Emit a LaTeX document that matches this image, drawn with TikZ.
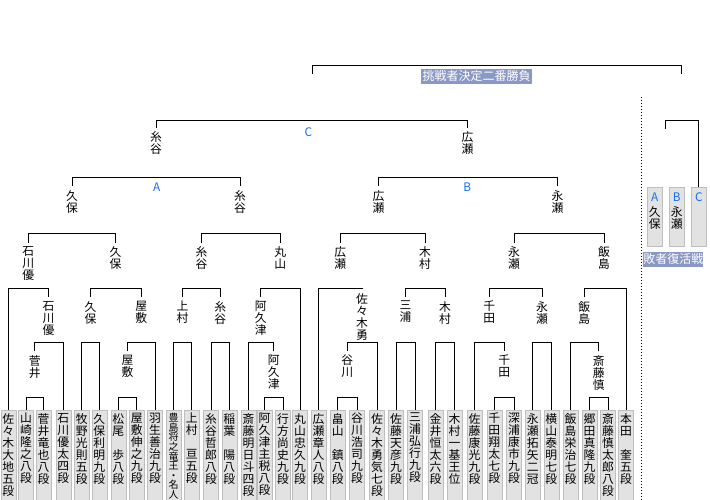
\documentclass[tikz,border=0pt]{standalone}
\usepackage{fontspec}
\newfontfamily\jpfont{Noto Sans CJK JP}
\definecolor{boxfill}{RGB}{226,226,226}
\definecolor{boxline}{RGB}{190,190,190}
\definecolor{tagfill}{RGB}{138,152,198}
\definecolor{letblue}{RGB}{20,110,240}
\makeatletter
\def\vtb#1#2{\vbox{\baselineskip=#1\lineskiplimit=-100pt\lineskip=0pt\vt@loop#2\relax}}
\def\vt@loop#1{\ifx\relax#1\else\hbox to 12pt{\hss#1\hss}\expandafter\vt@loop\fi}
\makeatother
\newcommand\vt[1]{\vtb{12pt}{#1}}
\newcommand\bkt[3]{\draw[con] (#1.north) |- (#2.north |- #3) -- (#2.north);}
\begin{document}
\begin{tikzpicture}[x=1pt,y=-1pt,
 every node/.style={font=\jpfont\fontsize{11.8}{12}\selectfont, inner sep=0pt},
 lab/.style={anchor=north, inner xsep=0pt, inner ysep=4pt},
 pbox/.style={draw=boxline, fill=boxfill, minimum width=15pt, minimum height=92pt, anchor=north},
 ptext/.style={anchor=north},
 con/.style={line width=1pt, draw=black},
 tag/.style={fill=tagfill, text=white, font=\jpfont\fontsize{12}{12}\selectfont},
 letter/.style={text=letblue}]
\useasboundingbox[fill=white] (0,0) rectangle (710,500);
\coordinate (yA) at (0,397);
\coordinate (yB) at (0,342);
\coordinate (yC) at (0,288);
\coordinate (yD) at (0,233);
\coordinate (yE) at (0,177.5);
\coordinate (yF) at (0,121);
\coordinate (yG) at (0,65.5);
\coordinate (yL) at (0,121);
% players
\foreach \i/\x/\nm in {1/8.3/佐々木大地五段, 2/26/山崎隆之八段, 3/43.5/菅井竜也八段, 4/63.3/石川優太四段,
  5/81.7/牧野光則五段, 6/99.3/久保利明九段, 7/118.3/松尾~歩八段, 8/136.7/屋敷伸之九段, 9/155/羽生善治九段,
  11/191.7/上村~亘五段, 12/211/糸谷哲郎八段, 13/229.3/稲葉~陽八段, 14/248.5/斎藤明日斗四段,
  15/264.5/阿久津主税八段, 16/283/行方尚史九段, 17/300/丸山忠久九段, 18/318.5/広瀬章人八段, 19/337.7/畠山~鎮八段,
  20/357/谷川浩司九段, 21/377/佐々木勇気七段, 22/396/佐藤天彦九段, 23/415/三浦弘行九段, 24/435.5/金井恒太六段,
  25/454.5/木村一基王位, 26/474.5/佐藤康光九段, 27/494.3/千田翔太七段, 28/514/深浦康市九段, 29/532.7/永瀬拓矢二冠,
  30/551.3/横山泰明七段, 31/570.5/飯島栄治七段, 32/589.5/郷田真隆九段, 33/608/斎藤慎太郎八段, 34/626/本田~奎五段}{
  \node[pbox] (p\i) at (\x,410) {};
  \node[ptext] (t\i) at (\x,413) {\expandafter\vt\expandafter{\nm}};
}
\node[pbox] (p10) at (173.5,410) {};
\node[ptext, font=\jpfont\fontsize{10}{9.5}\selectfont] (t10) at (173.5,413) {\vtb{9.6pt}{豊島将之竜王・名人}};
% row 5 labels
\node[lab] (s5a) at (34.75,351) {\vt{菅井}};
\node[lab] (s5b) at (127.5,351) {\vt{屋敷}};
\node[lab] (s5c) at (273.75,351) {\vt{阿久津}};
\node[lab] (s5d) at (347.3,351) {\vt{谷川}};
\node[lab] (s5e) at (504.2,351) {\vt{千田}};
\node[lab] (s5f) at (598.7,351) {\vt{斎藤慎}};
% row 4 labels
\node[lab] (r4a) at (48.5,297) {\vt{石川優}};
\node[lab] (r4b) at (90.5,297) {\vt{久保}};
\node[lab] (r4c) at (141.3,297) {\vt{屋敷}};
\node[lab] (r4d) at (182.5,297) {\vt{上村}};
\node[lab] (r4e) at (220.2,297) {\vt{糸谷}};
\node[lab] (r4f) at (260.8,297) {\vt{阿久津}};
\node[lab] (r4g) at (362,289) {\vt{佐々木勇}};
\node[lab] (r4h) at (405.5,297) {\vt{三浦}};
\node[lab] (r4i) at (445,297) {\vt{木村}};
\node[lab] (r4j) at (489.3,297) {\vt{千田}};
\node[lab] (r4k) at (542,297) {\vt{永瀬}};
\node[lab] (r4l) at (584.2,297) {\vt{飯島}};
% row 3 labels
\node[lab] (r3a) at (28.2,242.5) {\vt{石川優}};
\node[lab] (r3b) at (115.5,242.5) {\vt{久保}};
\node[lab] (r3c) at (201.5,242.5) {\vt{糸谷}};
\node[lab] (r3d) at (280.2,242.5) {\vt{丸山}};
\node[lab] (r3e) at (340.2,242.5) {\vt{広瀬}};
\node[lab] (r3f) at (425,242.5) {\vt{木村}};
\node[lab] (r3g) at (514,242.5) {\vt{永瀬}};
\node[lab] (r3h) at (604,242.5) {\vt{飯島}};
% row 2 labels
\node[lab] (r2a) at (72,186) {\vt{久保}};
\node[lab] (r2b) at (240,186) {\vt{糸谷}};
\node[lab] (r2c) at (378.5,186) {\vt{広瀬}};
\node[lab] (r2d) at (557.5,186) {\vt{永瀬}};
% row 1 labels
\node[lab] (r1a) at (156,127.7) {\vt{糸谷}};
\node[lab] (r1b) at (467.5,127.7) {\vt{広瀬}};
% block letters
\node[letter] (la) at (156.7,187) {A};
\node[letter] (lb) at (467.3,187) {B};
\node[letter] (lc) at (308.3,131.7) {C};
% first round
\bkt{p2}{p3}{yA}
\bkt{p7}{p8}{yA}
\bkt{p15}{p16}{yA}
\bkt{p19}{p20}{yA}
\bkt{p27}{p28}{yA}
\bkt{p32}{p33}{yA}
% second level
\bkt{s5a}{p4}{yB}
\bkt{p5}{p6}{yB}
\bkt{s5b}{p9}{yB}
\bkt{p10}{p11}{yB}
\bkt{p12}{p13}{yB}
\bkt{p14}{s5c}{yB}
\bkt{s5d}{p21}{yB}
\bkt{p22}{p23}{yB}
\bkt{p24}{p25}{yB}
\bkt{p26}{s5e}{yB}
\bkt{p29}{p30}{yB}
\bkt{p31}{s5f}{yB}
% third level
\bkt{p1}{r4a}{yC}
\bkt{r4b}{r4c}{yC}
\bkt{r4d}{r4e}{yC}
\bkt{r4f}{p17}{yC}
\bkt{p18}{r4g}{yC}
\bkt{r4h}{r4i}{yC}
\bkt{r4j}{r4k}{yC}
\bkt{r4l}{p34}{yC}
% fourth level
\bkt{r3a}{r3b}{yD}
\bkt{r3c}{r3d}{yD}
\bkt{r3e}{r3f}{yD}
\bkt{r3g}{r3h}{yD}
% blocks A, B
\bkt{r2a}{r2b}{yE}
\bkt{r2c}{r2d}{yE}
% block C
\bkt{r1a}{r1b}{yF}
% final
\coordinate (fL) at (312.3,74);
\coordinate (fR) at (681,74);
\draw[con] (fL) |- (fR |- yG) -- (fR);
\node[tag, minimum width=111.3pt, minimum height=14.7pt] (tagA) at (476.7,76.3) {挑戦者決定二番勝負};
% separator
\coordinate (d1) at (641.7,97);
\coordinate (d2) at (641.7,500);
\draw[line width=1pt, dash pattern=on 1pt off 2pt, black] (d1) -- (d2);
% losers bracket
\node[pbox, minimum height=58.7pt] (lbA) at (654.8,187.3) {};
\node[pbox, minimum height=58.7pt] (lbB) at (676.7,187.3) {};
\node[pbox, minimum height=58.7pt] (lbC) at (698.8,187.3) {};
\node[letter] (lAl) at (654.8,196.7) {A};
\node[letter] (lBl) at (676.7,196.7) {B};
\node[letter] (lCl) at (698.8,196.7) {C};
\node[ptext] (lAn) at (654.8,206.5) {\vt{久保}};
\node[ptext] (lBn) at (676.7,206.5) {\vt{永瀬}};
\coordinate (lbW) at (665.7,129.3);
\draw[con] (lbW) |- (lbC.north |- yL) -- (lbC.north);
\node[tag, minimum width=56.7pt, minimum height=15pt] (tagB) at (673.3,259.2) {敗者復活戦};
\end{tikzpicture}
\end{document}
